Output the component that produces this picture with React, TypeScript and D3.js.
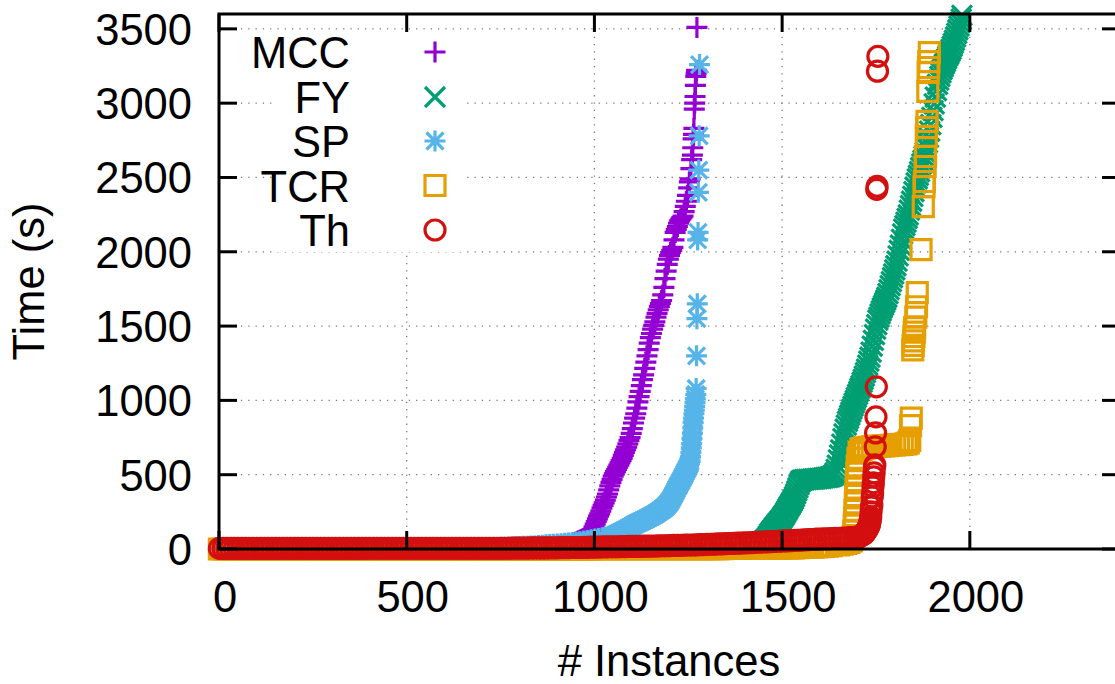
import React from 'react';
import * as d3 from 'd3';

// cactus plot: solved instances (sorted) vs time
const xTicks = [0, 500, 1000, 1500, 2000];
const yTicks = [0, 500, 1000, 1500, 2000, 2500, 3000, 3500];
const seriesNames = ['MCC', 'FY', 'SP', 'TCR', 'Th'];

// low, flat part of each curve: times (s) for instance 1, 11, 21, ...
const lowStep = 10;
const mccLow = [
  0, 0, 0, 0, 0, 0, 0, 0, 0, 0, 0, 0, 0, 0, 0, 0, 0, 0, 0, 0,
  1, 1, 1, 1, 1, 1, 1, 1, 1, 1, 1, 1, 1, 1, 1, 1, 1, 1, 1, 1,
  2, 2, 2, 2, 2, 2, 2, 2, 2, 2, 2, 2, 2, 2, 2, 2, 2, 2, 2, 2,
  3, 3, 3, 3, 3, 3, 3, 3, 3, 3, 3, 3, 3, 3, 3,
  4, 4, 5, 5, 5, 6, 6, 7, 7, 8,
  9, 10, 11, 13, 15, 18, 22, 27, 33,
];
const fyLow = [
  0, 0, 0, 0, 0, 0, 0, 0, 0, 0, 0, 0, 0, 0, 0, 0, 0, 0, 0, 0,
  0, 0, 0, 0, 0, 0, 0, 0, 0, 0, 0, 0, 0, 0, 0, 0, 0, 0, 0, 0,
  1, 1, 1, 1, 1, 1, 1, 1, 1, 1, 1, 1, 1, 1, 1, 1, 1, 1, 1, 1,
  1, 1, 1, 1, 1, 1, 1, 1, 1, 1, 1, 1, 1, 1, 1, 1, 1, 1, 1, 1,
  2, 2, 2, 2, 2, 3, 3, 3, 3, 3, 3, 3, 4, 4, 4, 4, 4, 4, 4, 4,
  5, 5, 5, 6, 6, 6, 6, 7, 7, 7, 7, 8, 8, 8, 8, 9, 9, 9, 10, 10,
  11, 11, 12, 12, 13, 13, 14, 14, 15, 15, 16, 17, 18, 19, 20, 21, 22, 23, 24, 25,
  27, 30, 33, 36,
];
const spLow = [
  0, 0, 0, 0, 0, 0, 0, 0, 0, 0, 0, 0, 0, 0, 0, 0, 0, 0, 0, 0,
  1, 1, 1, 1, 1, 1, 1, 1, 1, 1, 1, 1, 1, 1, 1, 1, 1, 1, 1, 1,
  2, 2, 2, 2, 2, 2, 2, 2, 2, 2, 2, 2, 2, 2, 2,
  3, 3, 3, 3, 3, 3, 3, 3, 3, 3,
  4, 4, 5, 5, 6, 6, 7, 8, 9, 10,
  11, 12, 13, 14, 15, 17, 18, 19, 20, 21,
  24, 26, 28, 30, 32, 34, 36, 38, 40, 43,
  46, 49, 52, 56, 60, 65, 70, 76,
];
const tcrLow = [
  0, 0, 0, 0, 0, 0, 0, 0, 0, 0, 0, 0, 0, 0, 0, 0, 0, 0, 0, 0,
  0, 0, 0, 0, 0, 0, 0, 0, 0, 0, 0, 0, 0, 0, 0, 0, 0, 0, 0, 0,
  0, 0, 0, 0, 0, 0, 0, 0, 0, 0, 0, 0, 0, 0, 0, 0, 0, 0, 0, 0,
  1, 1, 1, 1, 1, 1, 1, 1, 1, 1, 1, 1, 1, 1, 1, 1, 1, 1, 1, 1,
  1, 1, 1, 1, 1, 1, 1, 1, 1, 1, 1, 1, 1, 1, 1, 1, 1, 1, 1, 1,
  2, 2, 2, 2, 2, 2, 2, 2, 2, 2, 2, 2, 2, 2, 2, 2, 2, 2, 2, 2, 2, 2, 2, 2, 2, 2, 2, 2, 2, 2,
  3, 3, 3, 3, 3, 4, 4, 4, 4, 4, 4, 5, 5, 5, 5, 5, 6, 6, 6, 6,
  7, 7, 8, 8, 9, 10, 11, 12, 13, 14, 16, 18, 20, 23,
];
const thLow = [
  4, 4, 4, 4, 4, 4, 4, 4, 4, 4, 4, 4, 4, 4, 4, 4, 4, 4, 4, 4,
  4, 4, 4, 4, 4, 4, 4, 4, 4, 4, 4, 4, 4, 4, 4, 4, 4, 4, 4, 4,
  5, 5, 5, 5, 5, 5, 5, 5, 5, 5, 5, 5, 5, 5, 5, 5, 5, 5, 5, 5,
  5, 5, 5, 5, 5, 5, 5, 5, 5, 5, 5, 5, 5, 5, 5,
  5, 5, 5, 6, 6, 6, 6, 6, 7, 7,
  7, 7, 7, 8, 8, 8, 9, 9, 9, 10, 10, 10, 11, 11, 12,
  13, 13, 14, 14, 15, 15, 15, 16, 16, 17, 17, 18, 18, 19, 19,
  20, 20, 21, 22, 22, 23, 24, 24, 25, 26, 27, 27, 28, 29, 30,
  31, 32, 33, 34, 35, 36, 37, 38, 39, 40, 41, 42, 43, 45, 46,
  47, 48, 50, 51, 52, 54, 55, 56, 58, 59, 60, 62, 63, 64, 66,
  67, 68, 69, 70, 71, 72, 73, 74, 76, 78,
];

// rising part of each curve: [instances solved, time (s)]
const mccHigh = [
  [945, 38], [948, 42], [951, 46], [954, 49], [957, 53], [960, 56], [963, 60], [966, 63],
  [969, 67], [972, 71], [975, 75], [978, 79], [981, 83], [984, 90], [987, 97], [990, 104],
  [993, 115], [996, 130], [999, 149], [1002, 167], [1005, 185], [1008, 203], [1011, 221],
  [1014, 237], [1017, 255], [1020, 275], [1023, 293], [1026, 311], [1029, 329], [1032, 350],
  [1035, 370], [1038, 398], [1041, 425], [1044, 448], [1047, 468], [1050, 490], [1053, 505],
  [1056, 520], [1059, 535], [1062, 550], [1065, 565], [1068, 580], [1071, 595], [1074, 610],
  [1077, 630], [1080, 650], [1083, 668], [1086, 685], [1089, 708], [1092, 730], [1095, 750],
  [1098, 778], [1101, 810], [1104, 848], [1107, 880], [1110, 910], [1113, 948], [1116, 990],
  [1119, 1025], [1122, 1060], [1125, 1100], [1128, 1140], [1131, 1172], [1134, 1215],
  [1137, 1258], [1140, 1300], [1143, 1342], [1146, 1385], [1149, 1422], [1152, 1450],
  [1155, 1480], [1158, 1505], [1161, 1528], [1164, 1560], [1167, 1585], [1170, 1610],
  [1173, 1632], [1176, 1652], [1179, 1672], [1182, 1710], [1185, 1760], [1188, 1820],
  [1191, 1870], [1194, 1915], [1197, 1950], [1200, 1975], [1203, 1995], [1206, 2010],
  [1209, 2030], [1212, 2080], [1215, 2130], [1218, 2150], [1221, 2170], [1224, 2192],
  [1227, 2208], [1230, 2220], [1233, 2230], [1236, 2240], [1239, 2270], [1242, 2305],
  [1245, 2340], [1248, 2380], [1251, 2430], [1253, 2470], [1255, 2490], [1257, 2560],
  [1259, 2620], [1261, 2650], [1262, 2700], [1263, 2760], [1264, 2790], [1265, 2830],
  [1266, 2960], [1267, 3000], [1268, 3045], [1269, 3120], [1270, 3180], [1271, 3200],
  [1272, 3220], [1273, 3510],
];
const fyHigh = [
  [1440, 40], [1443, 43], [1446, 46], [1449, 49], [1452, 54], [1455, 60], [1458, 68],
  [1461, 78], [1464, 90], [1467, 104], [1470, 112], [1473, 122], [1476, 132], [1479, 142],
  [1482, 151], [1485, 160], [1488, 170], [1491, 179], [1494, 189], [1497, 198], [1500, 208],
  [1503, 219], [1506, 230], [1509, 243], [1512, 257], [1515, 270], [1518, 283], [1521, 296],
  [1524, 308], [1527, 321], [1530, 335], [1533, 352], [1536, 371], [1539, 391], [1542, 412],
  [1545, 432], [1548, 450], [1551, 460], [1555, 464], [1560, 466], [1565, 467], [1570, 468],
  [1575, 469], [1580, 470], [1585, 471], [1590, 472], [1595, 474], [1600, 475], [1605, 476],
  [1610, 478], [1615, 480], [1620, 482], [1625, 484], [1630, 487], [1635, 492], [1638, 498],
  [1641, 512], [1644, 535], [1647, 565], [1650, 600], [1653, 633], [1656, 667], [1659, 705],
  [1662, 742], [1665, 775], [1668, 806], [1671, 833], [1674, 858], [1677, 879], [1680, 900],
  [1683, 921], [1686, 942], [1689, 962], [1692, 981], [1695, 1000], [1698, 1021],
  [1701, 1041], [1704, 1061], [1707, 1081], [1710, 1100], [1713, 1121], [1716, 1142],
  [1719, 1164], [1722, 1187], [1725, 1210], [1728, 1237], [1731, 1264], [1734, 1291],
  [1737, 1325], [1740, 1365], [1743, 1404], [1746, 1443], [1749, 1480], [1752, 1510],
  [1755, 1540], [1758, 1561], [1761, 1582], [1764, 1603], [1767, 1623], [1770, 1640],
  [1773, 1657], [1776, 1674], [1779, 1694], [1782, 1718], [1785, 1745], [1788, 1772],
  [1791, 1799], [1794, 1826], [1797, 1852], [1800, 1878], [1803, 1906], [1806, 1937],
  [1809, 1973], [1812, 2009], [1815, 2045], [1818, 2084], [1821, 2120], [1824, 2152],
  [1827, 2176], [1830, 2200], [1833, 2224], [1836, 2248], [1839, 2280], [1842, 2310],
  [1845, 2340], [1848, 2373], [1851, 2405], [1854, 2435], [1857, 2463], [1860, 2490],
  [1863, 2514], [1866, 2540], [1869, 2566], [1872, 2592], [1875, 2615], [1878, 2642],
  [1881, 2669], [1884, 2700], [1887, 2734], [1890, 2770], [1893, 2812], [1896, 2856],
  [1899, 2904], [1902, 2950], [1905, 2995], [1908, 3040], [1911, 3085], [1914, 3127],
  [1917, 3155], [1920, 3180], [1923, 3204], [1926, 3226], [1929, 3245], [1932, 3262],
  [1935, 3280], [1938, 3298], [1941, 3316], [1944, 3330], [1947, 3346], [1950, 3362],
  [1953, 3382], [1956, 3402], [1959, 3423], [1962, 3446], [1965, 3470], [1968, 3494],
  [1971, 3518], [1974, 3542], [1977, 3566], [1979, 3590],
];
const spHigh = [
  [1040, 82], [1045, 85], [1050, 88], [1055, 94], [1060, 100], [1065, 106], [1070, 112],
  [1075, 118], [1080, 125], [1085, 131], [1090, 138], [1095, 145], [1100, 152], [1105, 160],
  [1110, 168], [1115, 174], [1120, 180], [1125, 186], [1130, 192], [1135, 198], [1140, 205],
  [1145, 211], [1150, 218], [1155, 225], [1160, 232], [1165, 240], [1170, 248], [1175, 256],
  [1180, 265], [1183, 271], [1186, 277], [1189, 283], [1192, 291], [1195, 300], [1198, 309],
  [1201, 319], [1204, 331], [1207, 345], [1210, 360], [1213, 375], [1216, 390], [1219, 405],
  [1222, 419], [1225, 432], [1228, 446], [1231, 460], [1234, 475], [1237, 490], [1240, 505],
  [1243, 520], [1246, 535], [1249, 550], [1251, 562], [1253, 575], [1255, 590], [1256, 620],
  [1257, 650], [1258, 680], [1259, 710], [1260, 745], [1261, 780], [1262, 815], [1263, 850],
  [1264, 880], [1265, 910], [1266, 935], [1267, 960], [1268, 985], [1269, 1010],
  [1270, 1040], [1271, 1080], [1272, 1300], [1273, 1550], [1274, 1650], [1275, 2080],
  [1276, 2130], [1277, 2400], [1278, 2550], [1279, 2780], [1280, 3260],
];
const tcrHigh = [
  [1650, 27], [1660, 32], [1670, 38], [1678, 45], [1684, 55], [1688, 70], [1690, 90],
  [1691, 120], [1692, 160], [1693, 210], [1694, 260], [1695, 310], [1696, 360], [1697, 410],
  [1698, 460], [1699, 510], [1700, 560], [1702, 610], [1705, 650], [1710, 670], [1715, 676],
  [1720, 680], [1730, 684], [1740, 688], [1750, 690], [1760, 692], [1770, 694], [1780, 696],
  [1790, 698], [1800, 700], [1810, 702], [1820, 704], [1830, 708], [1836, 714], [1840, 730],
  [1842, 830], [1844, 880], [1848, 1340], [1849, 1370], [1850, 1400], [1851, 1430],
  [1852, 1460], [1853, 1490], [1856, 1560], [1858, 1630], [1860, 1725], [1870, 2015],
  [1876, 2304], [1878, 2439], [1879, 2473], [1881, 2574], [1882, 2641], [1884, 2776],
  [1885, 2836], [1886, 2877], [1888, 3080], [1889, 3207], [1890, 3240], [1891, 3280],
  [1892, 3340],
];
const thHigh = [
  [1700, 79], [1705, 82], [1710, 88], [1715, 95], [1718, 100], [1720, 108], [1722, 115],
  [1724, 122], [1726, 130], [1728, 140], [1730, 150], [1732, 160], [1733, 172], [1734, 185],
  [1735, 200], [1736, 216], [1737, 250], [1738, 283], [1739, 296], [1740, 350], [1741, 377],
  [1742, 418], [1743, 445], [1744, 485], [1745, 512], [1746, 552], [1747, 566], [1748, 687],
  [1749, 781], [1750, 889], [1751, 1091], [1752, 2420], [1753, 2440], [1754, 3215],
  [1755, 3315],
];

const lows = [mccLow, fyLow, spLow, tcrLow, thLow];
const highs = [mccHigh, fyHigh, spHigh, tcrHigh, thHigh];
const colors = ['#9400d3', '#009e73', '#56b4e9', '#e69f00', '#d40f0f'];
const kinds = ['plus', 'times', 'star', 'square', 'circle'];

const FONT = '"Liberation Sans", Arial, Helvetica, sans-serif';

function marker(kind: string) {
  const p = d3.path();
  if (kind === 'plus' || kind === 'star') {
    const h = 10.5;
    p.moveTo(-h, 0); p.lineTo(h, 0);
    p.moveTo(0, -h); p.lineTo(0, h);
  }
  if (kind === 'times' || kind === 'star') {
    const h = kind === 'star' ? 8.5 : 10;
    p.moveTo(-h, -h); p.lineTo(h, h);
    p.moveTo(-h, h); p.lineTo(h, -h);
  }
  if (kind === 'square') p.rect(-10, -10, 20, 20);
  if (kind === 'circle') { p.moveTo(10, 0); p.arc(0, 0, 10, 0, 2 * Math.PI); }
  return p.toString();
}

export default function App() {
  const x = d3.scaleLinear().domain([0, 2400]).range([219, 1120]);
  const y = d3.scaleLinear().domain([0, 3600]).range([549, 14]);
  const [x0, x1] = x.range();
  const [y0, y1] = y.range();

  const series = seriesNames.map((name, i) => {
    const pts = lows[i].map((t, k) => [1 + k * lowStep, t]).concat(highs[i]);
    return { name, color: colors[i], d: marker(kinds[i]), pts };
  });

  const tick = 18;
  const legendY = [52, 97, 141, 185.5, 230];

  return (
    <svg width={1115} height={684} style={{ position: 'absolute', left: 0, top: 0, background: '#fff' }}
      fontFamily={FONT}>
      <rect width={1115} height={684} fill="#fff" />
      {/* grid */}
      <g stroke="#7a7a7a" strokeWidth={1.3} strokeDasharray="1.3 6">
        {xTicks.filter(v => v > 0).map(v => (
          <line key={'gx' + v} x1={x(v)} x2={x(v)} y1={y0} y2={y1} />
        ))}
        {yTicks.filter(v => v > 0).map(v => (
          <line key={'gy' + v} x1={x0} x2={x1} y1={y(v)} y2={y(v)} />
        ))}
      </g>
      {/* points */}
      {series.map(s => (
        <g key={s.name} fill="none" stroke={s.color} strokeWidth={3.2}>
          {s.pts.map(([n, t], k) => (
            <path key={k} d={s.d} transform={`translate(${x(n)},${y(t)})`} />
          ))}
        </g>
      ))}
      {/* border and ticks */}
      <g stroke="#000" strokeWidth={3}>
        <rect x={x0} y={y1} width={x1 - x0} height={y0 - y1} fill="none" />
        {xTicks.map(v => (
          <g key={'tx' + v}>
            <line x1={x(v)} x2={x(v)} y1={y0} y2={y0 - tick} />
            <line x1={x(v)} x2={x(v)} y1={y1} y2={y1 + tick} />
          </g>
        ))}
        {yTicks.map(v => (
          <g key={'ty' + v}>
            <line x1={x0} x2={x0 + tick} y1={y(v)} y2={y(v)} />
            <line x1={x1} x2={x1 - tick} y1={y(v)} y2={y(v)} />
          </g>
        ))}
      </g>
      {/* tick labels */}
      <g fontSize={43.5} fill="#000">
        {xTicks.map(v => (
          <text key={'lx' + v} x={x(v) + 6} y={612} textAnchor="middle">{v}</text>
        ))}
        {yTicks.map(v => (
          <text key={'ly' + v} x={192} y={y(v) + 16} textAnchor="end">{v}</text>
        ))}
        <text x={669} y={676} textAnchor="middle"># Instances</text>
        <text transform={`translate(44,${(y0 + y1) / 2}) rotate(-90)`} textAnchor="middle">Time (s)</text>
      </g>
      {/* key */}
      <rect x={273} y={34} width={192} height={218} fill="#fff" />
      <g fontSize={43.5}>
        {series.map((s, i) => (
          <g key={'k' + s.name}>
            <text x={350} y={legendY[i] + 16} textAnchor="end" fill="#000">{s.name}</text>
            <path d={s.d} transform={`translate(435,${legendY[i]})`} fill="none" stroke={s.color} strokeWidth={3.2} />
          </g>
        ))}
      </g>
    </svg>
  );
}
